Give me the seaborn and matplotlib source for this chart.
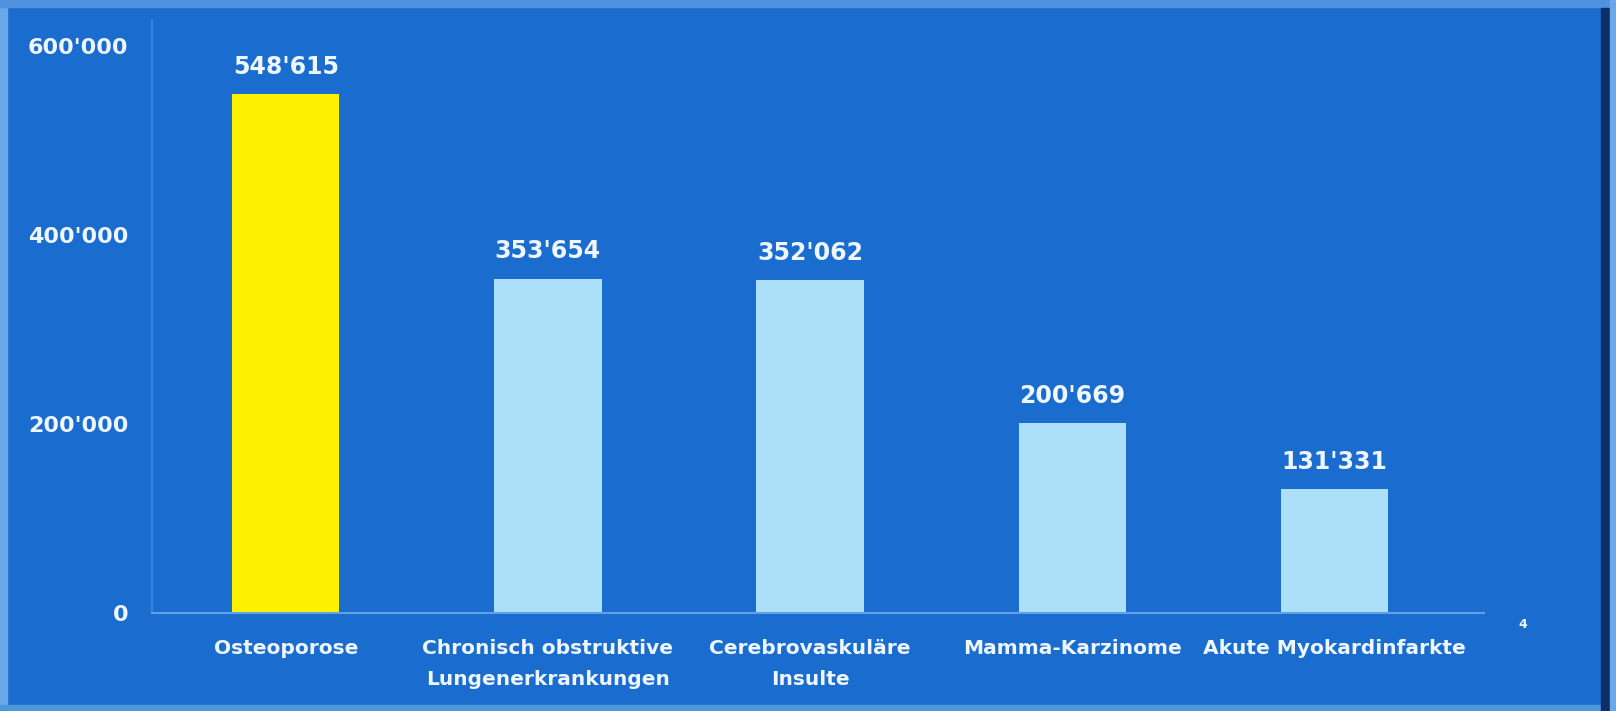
import matplotlib
matplotlib.use("Agg")
import matplotlib.pyplot as plt
import matplotlib.patches as mpatches
import seaborn as sns

# Hospitalisation days by diagnosis
categories = [
    "Osteoporose",
    "Chronisch obstruktive\nLungenerkrankungen",
    "Cerebrovaskuläre\nInsulte",
    "Mamma-Karzinome",
    "Akute Myokardinfarkte",
]
values = [548615, 353654, 352062, 200669, 131331]
value_labels = ["548'615", "353'654", "352'062", "200'669", "131'331"]
y_ticks = [0, 200000, 400000, 600000]
y_tick_labels = ["0", "200'000", "400'000", "600'000"]
bar_colors = ["#fff200", "#abe0f8", "#abe0f8", "#abe0f8", "#abe0f8"]

BG = "#1a6ccf"
TEXT = "#eef6ff"

sns.set_theme(style="white")
plt.rcParams["font.family"] = ["DejaVu Sans"]

W, H = 1616, 711
fig = plt.figure(figsize=(W / 100, H / 100), dpi=100, facecolor=BG)
ax = fig.add_axes([152 / W, 1 - 613 / H, (1484 - 152) / W, (613 - 20) / H])
ax.set_facecolor(BG)

sns.barplot(x=categories, y=values, hue=categories, palette=bar_colors,
            legend=False, width=0.41, saturation=1, ax=ax, linewidth=0)

ax.set_xlim(-0.51, 4.57)
ax.set_ylim(0, 627000)

for i, (v, lab) in enumerate(zip(values, value_labels)):
    ax.annotate(lab, (i, v), xytext=(0, 11), textcoords="offset points",
                ha="center", va="bottom", color=TEXT, fontsize=17,
                fontweight="bold")

ax.set_yticks(y_ticks)
ax.set_yticklabels(y_tick_labels, color=TEXT, fontsize=16, fontweight="bold")
ax.tick_params(axis="y", length=0, pad=17)
ax.tick_params(axis="x", length=0, pad=19)
for t in ax.get_xticklabels():
    t.set_color(TEXT)
    t.set_fontsize(14.5)
    t.set_fontweight("bold")
    t.set_linespacing(1.75)
ax.set_xlabel("")
ax.set_ylabel("")

for side in ("top", "right"):
    ax.spines[side].set_visible(False)
ax.spines["left"].set_color("#3f88dc")
ax.spines["left"].set_linewidth(1.2)
ax.spines["bottom"].set_color("#5fa0e6")
ax.spines["bottom"].set_linewidth(1.5)

# small page mark right of the axis
fig.text(1523 / W, 1 - 625 / H, "4", color=TEXT, fontsize=9,
         fontweight="bold", ha="center", va="center")

# frame around the panel
frame = [
    ((0, 0), 7 / W, 1, "#6aa8ea"),
    ((0, 1 - 7 / H), 1, 7 / H, "#4f92e0"),
    ((0, 0), 1, 6 / H, "#4b98d8"),
    ((1601 / W, 0), 9 / W, 1 - 8 / H, "#0b2f66"),
    ((1610 / W, 0), 6 / W, 1, "#6aa8ea"),
]
for (x0, y0), w, h, c in frame:
    fig.patches.append(mpatches.Rectangle((x0, y0), w, h, transform=fig.transFigure,
                                          color=c, zorder=0))

fig.savefig("out.png", dpi=100, facecolor=BG)
